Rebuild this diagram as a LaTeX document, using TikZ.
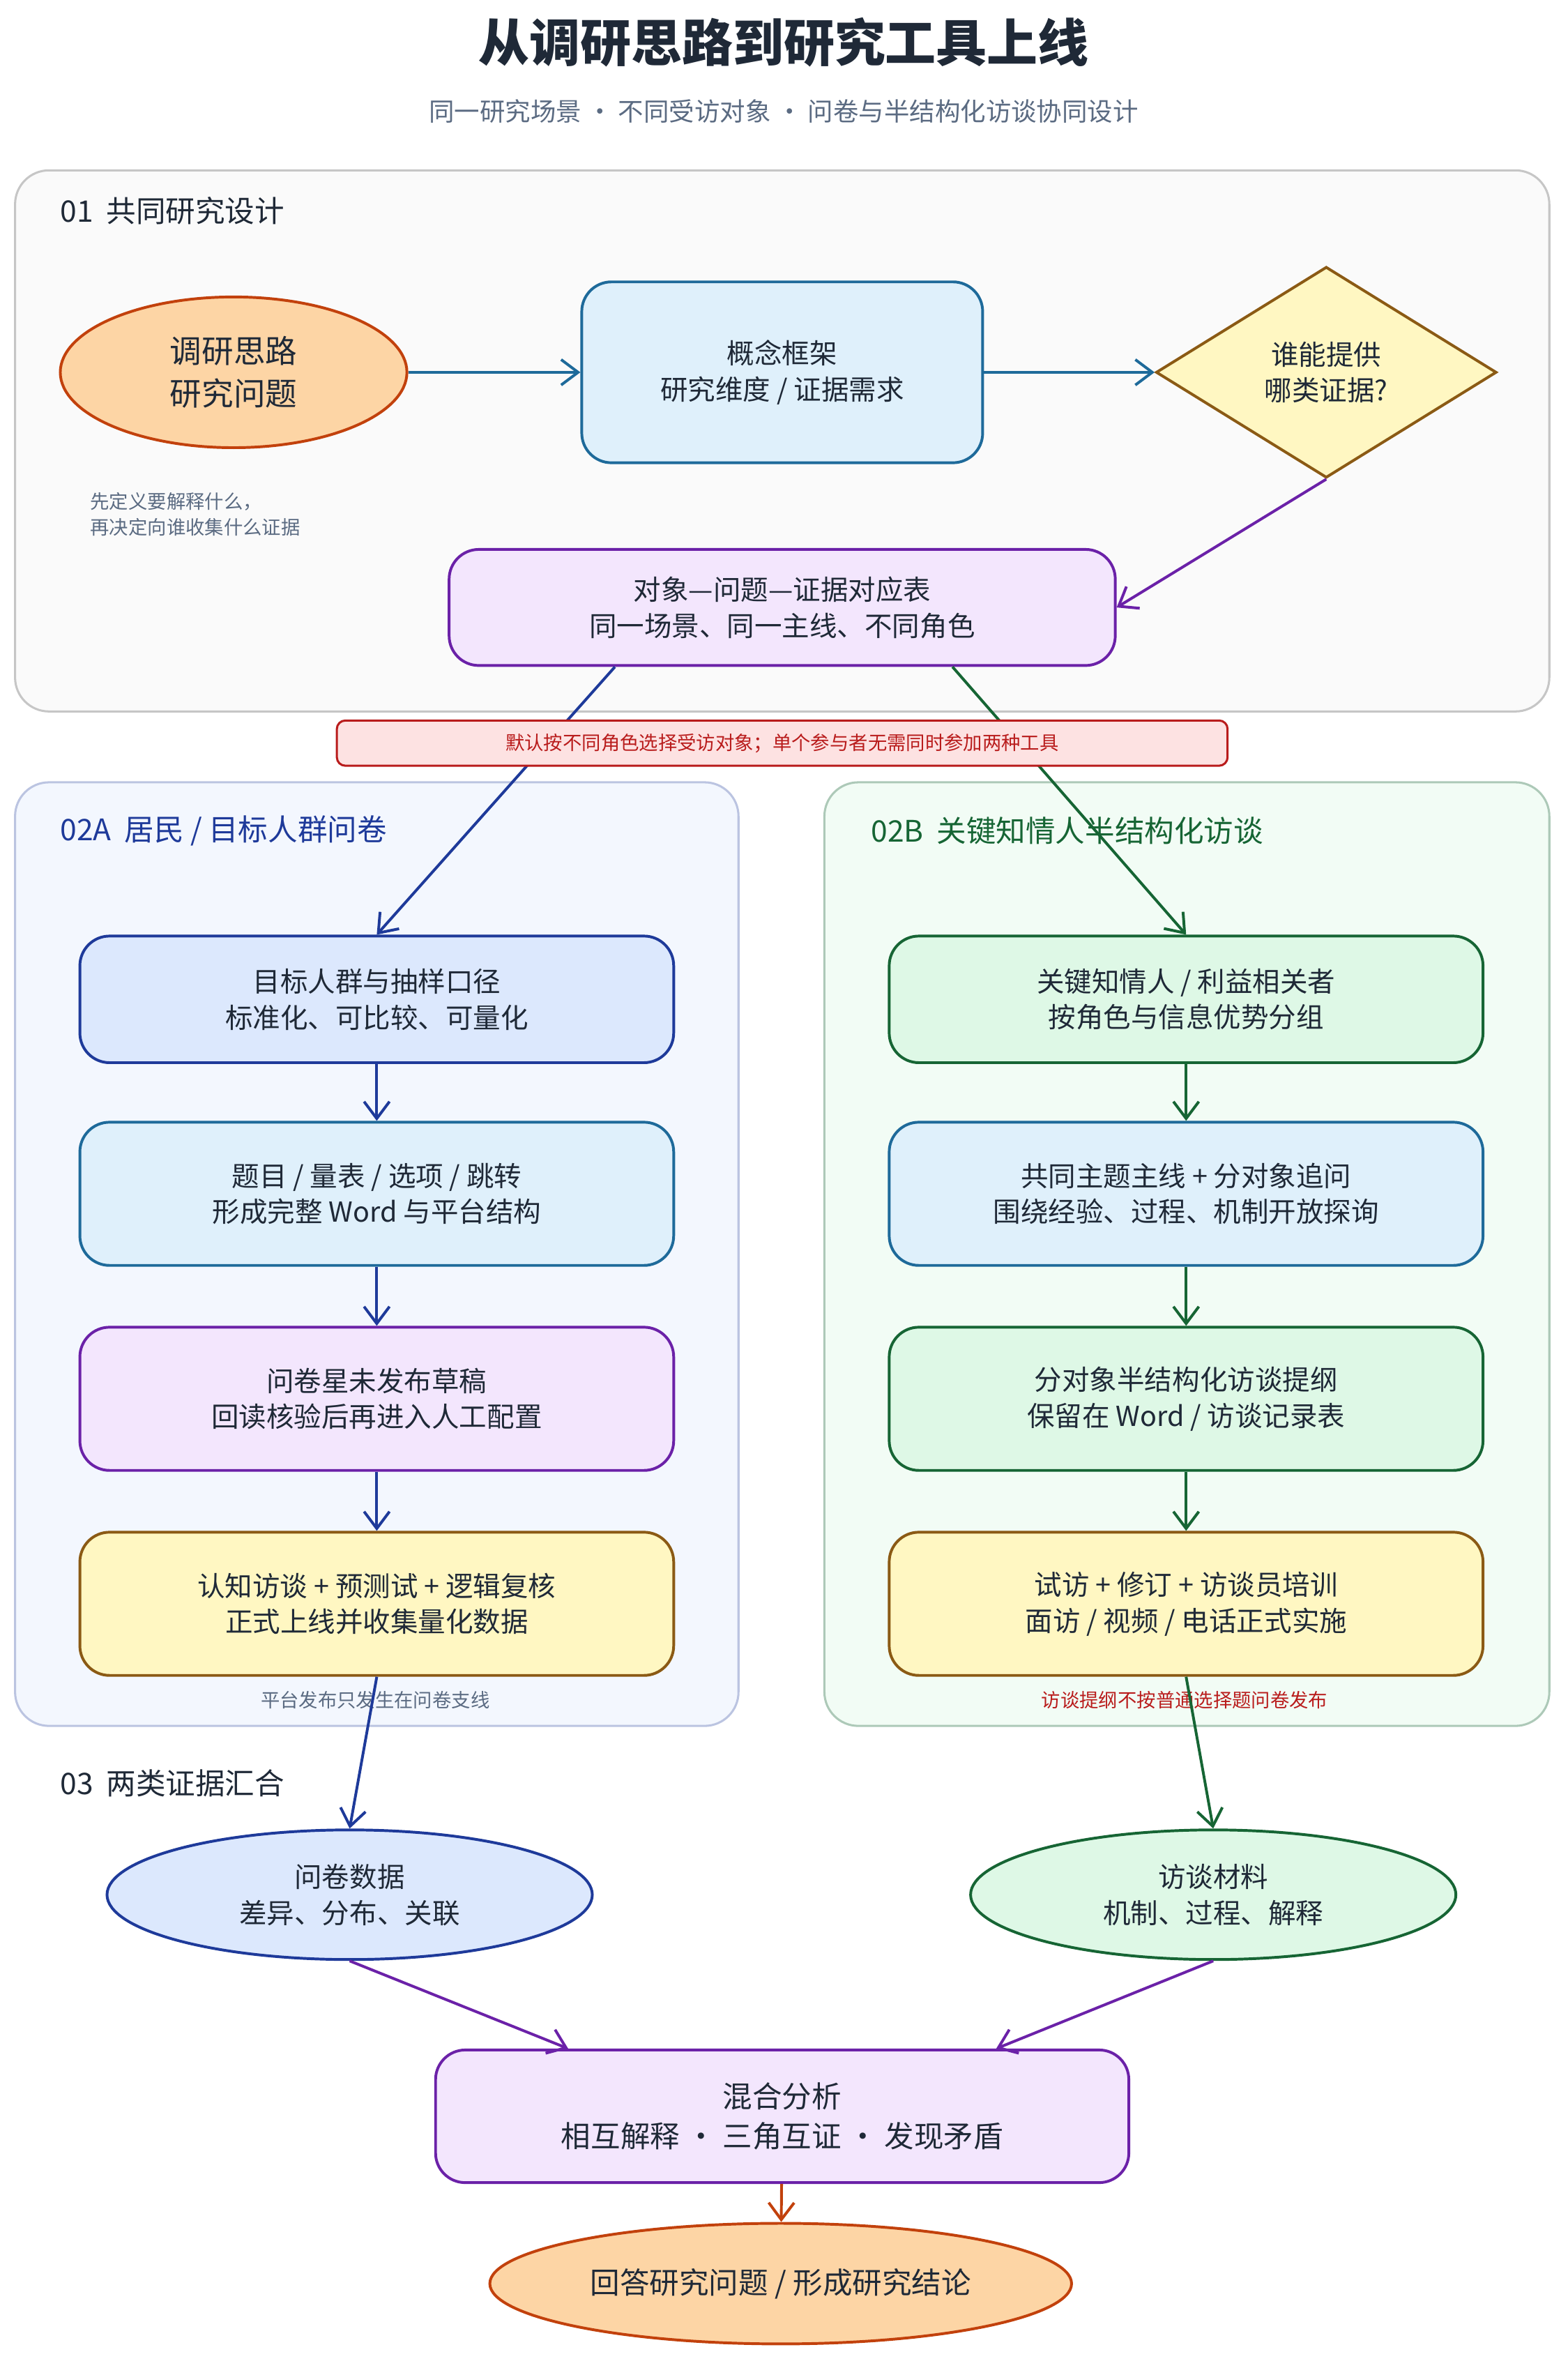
\documentclass[tikz,border=0pt]{standalone}
\usepackage{fontspec}
\setmainfont{Noto Sans CJK SC}
\usetikzlibrary{shapes.geometric,arrows.meta,positioning}

\definecolor{ink}{HTML}{1F2937}
\definecolor{sub}{HTML}{5B6B82}
\definecolor{orgF}{HTML}{FDD5A5}\definecolor{orgD}{HTML}{C2410C}
\definecolor{skyF}{HTML}{DFF0FB}\definecolor{skyD}{HTML}{1E6A9A}
\definecolor{yelF}{HTML}{FFF7C2}\definecolor{yelD}{HTML}{8B5A14}
\definecolor{purF}{HTML}{F3E6FD}\definecolor{purD}{HTML}{6B21A8}
\definecolor{bluF}{HTML}{DCE8FD}\definecolor{bluD}{HTML}{1E3A9A}
\definecolor{grnF}{HTML}{DEF8E6}\definecolor{grnD}{HTML}{166534}
\definecolor{redF}{HTML}{FDE2E2}\definecolor{redD}{HTML}{B91C1C}

\tikzset{
  sz/.style 2 args={minimum width=#1*0.025cm, minimum height=#2*0.025cm},
  box/.style={rounded corners=14pt, line width=1.3pt, align=center, inner sep=0pt, font=\fontsize{13}{17}\selectfont, text=ink},
  oval/.style={ellipse, line width=1.3pt, align=center, inner sep=0pt, font=\fontsize{13}{17}\selectfont, text=ink},
  panel/.style={rounded corners=16pt, line width=1pt},
  arr/.style={-{Straight Barb[length=8pt,width=12pt]}, line width=1.3pt},
  note/.style={font=\fontsize{9}{12}\selectfont, align=left}
}

\begin{document}
\begin{tikzpicture}[x=0.025cm, y=-0.025cm]
\useasboundingbox (0,0) rectangle (1040,1571);

% title
\node[font=\fontsize{24}{28}\bfseries\selectfont, text=ink] (title) at (520,28) {从调研思路到研究工具上线};
\node[font=\fontsize{12}{15}\selectfont, text=sub] (subt) at (520,74) {同一研究场景 · 不同受访对象 · 问卷与半结构化访谈协同设计};

% panels
\draw[panel, fill=gray!4, draw=gray!45] (10,113) rectangle (1028,472);
\draw[panel, fill=bluF!35, draw=bluD!30] (10,519) rectangle (490,1145);
\draw[panel, fill=grnF!40, draw=grnD!35] (547,519) rectangle (1028,1145);
\node[anchor=west, font=\fontsize{14}{17}\selectfont, text=ink] (lab1) at (35,140) {01\ \ 共同研究设计};
\node[anchor=west, font=\fontsize{14}{17}\selectfont, text=bluD] (lab2a) at (35,551) {02A\ \ 居民\ /\ 目标人群问卷};
\node[anchor=west, font=\fontsize{14}{17}\selectfont, text=grnD] (lab2b) at (573,551) {02B\ \ 关键知情人半结构化访谈};
\node[anchor=west, font=\fontsize{14}{17}\selectfont, text=ink] (lab3) at (35,1183) {03\ \ 两类证据汇合};

% section 01
\node[oval, fill=orgF, draw=orgD, sz={230}{100}, font=\fontsize{15}{20}\selectfont] (idea) at (155,247) {调研思路\\研究问题};
\node[box, fill=skyF, draw=skyD, sz={266}{120}] (frame) at (519,247) {概念框架\\研究维度\ /\ 证据需求};
\node[diamond, line width=1.3pt, fill=yelF, draw=yelD, sz={226}{140}, inner sep=0pt, align=center, font=\fontsize{13}{17}\selectfont, text=ink] (who) at (880,247) {谁能提供\\哪类证据?};
\node[note, text=sub, anchor=north west] (hint) at (55,322) {先定义要解释什么，\\再决定向谁收集什么证据};
\node[box, fill=purF, draw=purD, sz={442}{77}] (tbl) at (519,403) {对象—问题—证据对应表\\同一场景、同一主线、不同角色};

\draw[arr, skyD] (idea) -- (frame);
\draw[arr, skyD] (frame) -- (who);
\draw[arr, purD] (who.south) -- (tbl.east);

% branches
\node[box, fill=bluF, draw=bluD, sz={394}{84}] (q1) at (250,663) {目标人群与抽样口径\\标准化、可比较、可量化};
\node[box, fill=skyF, draw=skyD, sz={394}{95}] (q2) at (250,792) {题目\ /\ 量表\ /\ 选项\ /\ 跳转\\形成完整\ Word\ 与平台结构};
\node[box, fill=purF, draw=purD, sz={394}{95}] (q3) at (250,928) {问卷星未发布草稿\\回读核验后再进入人工配置};
\node[box, fill=yelF, draw=yelD, sz={394}{95}] (q4) at (250,1064) {认知访谈\ +\ 预测试\ +\ 逻辑复核\\正式上线并收集量化数据};
\node[box, fill=grnF, draw=grnD, sz={394}{84}] (i1) at (787,663) {关键知情人\ /\ 利益相关者\\按角色与信息优势分组};
\node[box, fill=skyF, draw=skyD, sz={394}{95}] (i2) at (787,792) {共同主题主线\ +\ 分对象追问\\围绕经验、过程、机制开放探询};
\node[box, fill=grnF, draw=grnD, sz={394}{95}] (i3) at (787,928) {分对象半结构化访谈提纲\\保留在\ Word\ /\ 访谈记录表};
\node[box, fill=yelF, draw=yelD, sz={394}{95}] (i4) at (787,1064) {试访\ +\ 修订\ +\ 访谈员培训\\面访\ /\ 视频\ /\ 电话正式实施};

\draw[arr, bluD] ([xshift=-111*0.025cm]tbl.south) -- (q1.north);
\draw[arr, grnD] ([xshift=113*0.025cm]tbl.south) -- (i1.north);
\draw[arr, bluD] (q1) -- (q2);
\draw[arr, bluD] (q2) -- (q3);
\draw[arr, bluD] (q3) -- (q4);
\draw[arr, grnD] (i1) -- (i2);
\draw[arr, grnD] (i2) -- (i3);
\draw[arr, grnD] (i3) -- (i4);

% banner drawn over the branch arrows
\node[box, rounded corners=4pt, line width=1pt, fill=redF, draw=redD, text=redD, sz={591}{30}, font=\fontsize{9}{11}\selectfont] (rule) at (519,493) {默认按不同角色选择受访对象；单个参与者无需同时参加两种工具};

\node[note, text=sub] (qnote) at (249,1128) {平台发布只发生在问卷支线};
\node[note, text=redD] (inote) at (786,1128) {访谈提纲不按普通选择题问卷发布};

% section 03
\node[oval, fill=bluF, draw=bluD, sz={322}{86}] (qdata) at (232,1257) {问卷数据\\差异、分布、关联};
\node[oval, fill=grnF, draw=grnD, sz={322}{86}] (idata) at (805,1257) {访谈材料\\机制、过程、解释};
\node[box, fill=purF, draw=purD, sz={460}{88}, font=\fontsize{14}{19}\selectfont] (mix) at (519,1404) {混合分析\\相互解释 · 三角互证 · 发现矛盾};
\node[oval, fill=orgF, draw=orgD, sz={386}{80}, font=\fontsize{14}{19}\selectfont] (ans) at (518,1515) {回答研究问题\ /\ 形成研究结论};

\draw[arr, bluD] (q4.south) -- (qdata.north);
\draw[arr, grnD] (i4.south) -- (idata.north);
\draw[arr, purD] (qdata.south) -- ([xshift=-142*0.025cm]mix.north);
\draw[arr, purD] (idata.south) -- ([xshift=142*0.025cm]mix.north);
\draw[arr, orgD] (mix) -- (ans);

\end{tikzpicture}
\end{document}
